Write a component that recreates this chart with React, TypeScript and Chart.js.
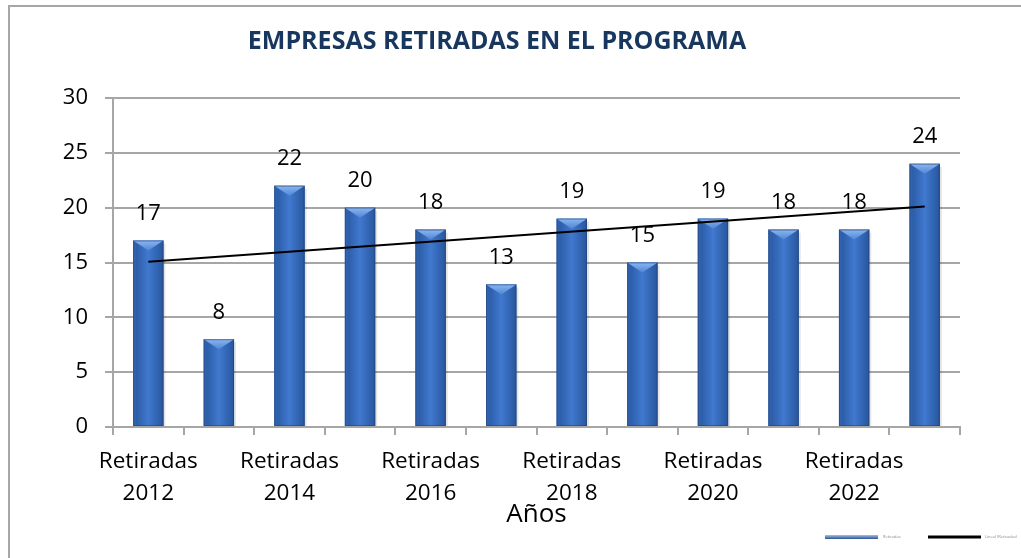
import React, { useEffect, useRef } from "react";
import { Chart, registerables } from "chart.js";

Chart.register(...registerables);

const categories = [
  "Retiradas 2012", "Retiradas 2013", "Retiradas 2014", "Retiradas 2015",
  "Retiradas 2016", "Retiradas 2017", "Retiradas 2018", "Retiradas 2019",
  "Retiradas 2020", "Retiradas 2021", "Retiradas 2022", "Retiradas 2023",
];
const retiradas = [17, 8, 22, 20, 18, 13, 19, 15, 19, 18, 18, 24];
// linear trend line (first and last points)
const trendStart = 15.06;
const trendEnd = 20.1;
const yTicks = [0, 5, 10, 15, 20, 25, 30];
const titleText = "EMPRESAS RETIRADAS EN EL PROGRAMA";
const xTitle = "Años";
const legendLabels = ["Retiradas", "Lineal (Retiradas)"];

const FONT = "'Open Sans', sans-serif";

const trend = categories.map((_, i) =>
  i === 0 ? trendStart : i === categories.length - 1 ? trendEnd : null
);

const barShade = {
  id: "barShade",
  afterDatasetDraw(chart: any, args: any) {
    if (args.index !== 1) return;
    const ctx = chart.ctx;
    const meta = args.meta;
    ctx.save();
    meta.data.forEach((bar: any) => {
      const w = bar.width;
      const l = bar.x - w / 2;
      const r = bar.x + w / 2;
      const t = bar.y;
      const b = bar.base;
      // shadow
      ctx.fillStyle = "rgba(0,0,0,0.10)";
      ctx.fillRect(r, t + 3, 2, b - t - 3);
      const g = ctx.createLinearGradient(l, 0, r, 0);
      g.addColorStop(0, "#3566b3");
      g.addColorStop(0.12, "#2d5ea9");
      g.addColorStop(0.5, "#4079cf");
      g.addColorStop(0.88, "#2d5ea9");
      g.addColorStop(1, "#2a5699");
      ctx.fillStyle = g;
      ctx.fillRect(l, t, w, b - t);
      // top bevel
      const gt = ctx.createLinearGradient(0, t, 0, t + 10);
      gt.addColorStop(0, "#8cb6f0");
      gt.addColorStop(1, "#4f86d6");
      ctx.fillStyle = gt;
      ctx.beginPath();
      ctx.moveTo(l, t);
      ctx.lineTo(r, t);
      ctx.lineTo(bar.x, t + 10);
      ctx.closePath();
      ctx.fill();
      ctx.strokeStyle = "rgba(30,60,110,0.5)";
      ctx.lineWidth = 1;
      ctx.strokeRect(l + 0.5, t + 0.5, w - 1, b - t - 1);
    });
    // value labels
    ctx.fillStyle = "#000";
    ctx.font = `22px ${FONT}`;
    ctx.textAlign = "center";
    ctx.textBaseline = "middle";
    meta.data.forEach((bar: any, i: number) => {
      ctx.fillText(String(retiradas[i]), bar.x, bar.y - 27);
    });
    ctx.restore();
  },
  afterDraw(chart: any) {
    const ctx = chart.ctx;
    ctx.save();
    const g = ctx.createLinearGradient(0, 535, 0, 539);
    g.addColorStop(0, "#a9bfe0");
    g.addColorStop(1, "#2a5597");
    ctx.fillStyle = g;
    ctx.fillRect(825, 535, 53, 4);
    ctx.fillStyle = "#000";
    ctx.fillRect(928, 535.5, 53, 3);
    ctx.font = `4px ${FONT}`;
    ctx.fillStyle = "#888";
    ctx.textBaseline = "middle";
    ctx.textAlign = "left";
    ctx.fillText(legendLabels[0], 883, 537);
    ctx.fillText(legendLabels[1], 985, 537);
    ctx.restore();
  },
};

export default function App() {
  const ref = useRef<HTMLCanvasElement>(null);
  useEffect(() => {
    if (!ref.current) return;
    const chart = new Chart(ref.current, {
      type: "bar",
      data: {
        labels: categories,
        datasets: [
          {
            type: "line",
            label: legendLabels[1],
            data: trend,
            borderColor: "#000",
            borderWidth: 2,
            pointRadius: 0,
            spanGaps: true,
            order: -1,
          } as any,
          {
            type: "bar",
            label: legendLabels[0],
            data: retiradas,
            backgroundColor: "#3b6dbd",
            barPercentage: 0.43,
            categoryPercentage: 1,
            order: 1,
          },
        ],
      },
      options: {
        responsive: false,
        animation: false,
        layout: { padding: { left: 34, right: 61, top: 0, bottom: 27.4 } },
        plugins: {
          legend: { display: false },
          tooltip: { enabled: false },
          title: {
            display: true,
            text: titleText,
            color: "#17375e",
            font: { family: FONT, size: 25, weight: "bold", lineHeight: 1.2 },
            padding: { top: 27, bottom: 41 },
          },
        },
        scales: {
          y: {
            min: 0,
            max: 30,
            afterBuildTicks(scale: any) {
              scale.ticks = yTicks.map((v) => ({ value: v }));
            },
            afterFit(scale: any) {
              scale.width = 79;
            },
            ticks: {
              color: "#000",
              font: { family: FONT, size: 22 },
              padding: 17,
            },
            grid: { color: "#a6a6a6", lineWidth: 2, tickLength: 8 },
            border: { display: true, color: "#a6a6a6", width: 2 },
          },
          x: {
            afterFit(scale: any) {
              scale.height = 103.6;
            },
            ticks: {
              color: "#000",
              font: { family: FONT, size: 22.5, lineHeight: 1.4 },
              autoSkip: false,
              maxRotation: 0,
              padding: 11,
              callback: (_v: any, i: number) =>
                i % 2 === 0 ? categories[i].split(" ") : "",
            },
            grid: {
              drawOnChartArea: false,
              color: "#a6a6a6",
              lineWidth: 2,
              tickLength: 8,
              offset: true,
            },
            border: { display: true, color: "#a6a6a6", width: 2 },
            title: {
              display: true,
              text: xTitle,
              color: "#000",
              font: { family: FONT, size: 26, lineHeight: 1.2 },
              padding: { top: 0, bottom: 0 },
            },
          },
        },
      },
      plugins: [barShade],
    });
    return () => chart.destroy();
  }, []);
  return (
    <div style={{ position: "absolute", left: 0, top: 0, width: 1021, height: 558, background: "#fff" }}>
      <canvas ref={ref} width={1021} height={558} style={{ position: "absolute", left: 0, top: 0 }} />
      <div style={{ position: "absolute", left: 8, top: 5, width: 1013, height: 553, borderLeft: "2px solid #a6a6a6", borderTop: "2px solid #a6a6a6", boxSizing: "border-box", pointerEvents: "none" }} />
    </div>
  );
}
